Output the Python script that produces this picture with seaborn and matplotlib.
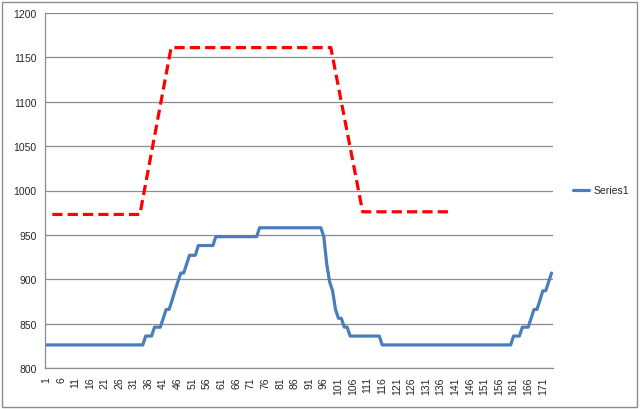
import numpy as np
import pandas as pd
import matplotlib
matplotlib.use("Agg")
import matplotlib.pyplot as plt
import seaborn as sns

# ── data ─────────────────────────────────────────────────────
series1 = [
    826, 826, 826, 826, 826, 826, 826, 826, 826, 826,
    826, 826, 826, 826, 826, 826, 826, 826, 826, 826,
    826, 826, 826, 826, 826, 826, 826, 826, 826, 826,
    826, 826, 826, 826, 836, 836, 836, 846, 846, 846,
    856, 866, 866, 876, 887, 897, 907, 907, 917, 927,
    927, 927, 938, 938, 938, 938, 938, 938, 948, 948,
    948, 948, 948, 948, 948, 948, 948, 948, 948, 948,
    948, 948, 948, 958, 958, 958, 958, 958, 958, 958,
    958, 958, 958, 958, 958, 958, 958, 958, 958, 958,
    958, 958, 958, 958, 958, 948, 917, 897, 887, 866,
    856, 856, 846, 846, 836, 836, 836, 836, 836, 836,
    836, 836, 836, 836, 836, 826, 826, 826, 826, 826,
    826, 826, 826, 826, 826, 826, 826, 826, 826, 826,
    826, 826, 826, 826, 826, 826, 826, 826, 826, 826,
    826, 826, 826, 826, 826, 826, 826, 826, 826, 826,
    826, 826, 826, 826, 826, 826, 826, 826, 826, 826,
    836, 836, 836, 846, 846, 846, 856, 866, 866, 876,
    887, 887, 897, 907,
]
category = list(range(1, len(series1) + 1))

# red dashed reference line (corner points only)
ref_x = [3, 33, 43.7, 98.4, 109.3, 139.3]
ref_y = [973, 973, 1161, 1161, 976, 976]

df = pd.DataFrame({"category": category, "value": series1})
ref = pd.DataFrame({"category": ref_x, "value": ref_y})

# ── plot ─────────────────────────────────────────────────────
sns.set_style("white")
plt.rcParams["font.family"] = ["Liberation Sans", "DejaVu Sans"]

fig = plt.figure(figsize=(6.4, 4.1), dpi=100)
ax = fig.add_axes([45 / 640, 41 / 410, 508 / 640, 355 / 410])

sns.lineplot(data=ref, x="category", y="value", ax=ax, color="#FF0000",
             linewidth=2.3, dashes=False, linestyle=(0, (3.2, 1.6)),
             sort=False, label="_nolegend_")
sns.lineplot(data=df, x="category", y="value", ax=ax, color="#4A7EBB",
             linewidth=2.3, label="Series1")

ax.set_xlim(0.5, len(series1) + 0.5)
ax.set_ylim(800, 1200)
ax.set_yticks(np.arange(800, 1201, 50))
ax.set_xticks(category[::5])
ax.set_xticks(category, minor=True)
ax.set_xticklabels([str(c) for c in category[::5]], rotation=90)
ax.grid(axis="y", color="#8C8C8C", linewidth=0.9)
ax.set_axisbelow(True)
ax.set_xlabel("")
ax.set_ylabel("")

for side in ["top", "right"]:
    ax.spines[side].set_visible(False)
for side in ["left", "bottom"]:
    ax.spines[side].set_color("#8C8C8C")
    ax.spines[side].set_linewidth(0.9)

ax.tick_params(axis="y", which="major", length=4, color="#8C8C8C",
               labelsize=7.5, pad=2)
ax.tick_params(axis="x", which="both", length=3, color="#8C8C8C",
               labelsize=7.5, pad=3)

leg = ax.legend(loc="center left", bbox_to_anchor=(1.02, 0.5),
                frameon=False, fontsize=7.5, handlelength=1.6,
                handletextpad=0.4)

# chart-area border
fig.patches.append(plt.Rectangle((2 / 640, 2 / 410), 635 / 640, 405 / 410,
                                 transform=fig.transFigure, fill=False,
                                 edgecolor="#8C8C8C", linewidth=1))

plt.savefig("out.png", dpi=100)
